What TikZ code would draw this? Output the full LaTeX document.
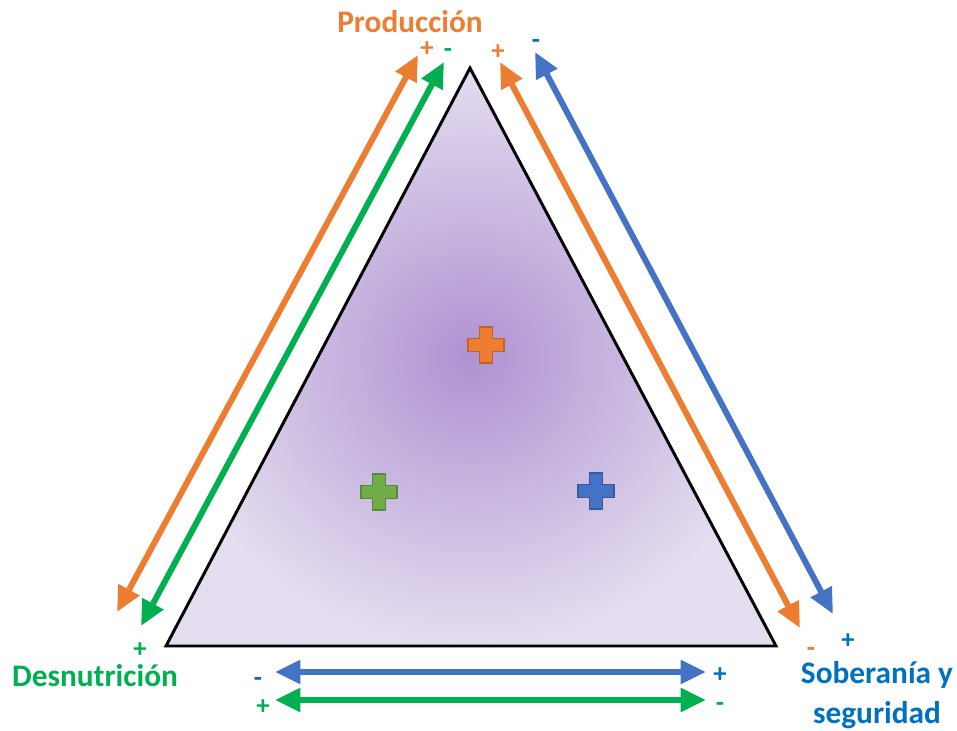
\documentclass[tikz,border=0pt]{standalone}
\usepackage{fontspec}
\setmainfont{Carlito}
\usetikzlibrary{arrows.meta}
\definecolor{prodorange}{HTML}{ED7D31}
\definecolor{desgreen}{HTML}{00B050}
\definecolor{sobblue}{HTML}{4472C4}
\definecolor{textblue}{HTML}{0070C0}
\definecolor{crossgreen}{HTML}{70AD47}
\definecolor{lilacin}{HTML}{AF92D2}
\definecolor{lilacout}{HTML}{E4DDEF}
\tikzstyle{twoway}=[draw,line width=4.5pt,{Triangle[length=19pt,width=17pt]}-{Triangle[length=19pt,width=17pt]}]
\tikzstyle{sign}=[font=\bfseries\fontsize{20}{20}\selectfont,inner sep=0pt]
\tikzstyle{title}=[font=\bfseries\fontsize{23.5}{30}\selectfont,inner sep=0pt,align=center]

\begin{document}
\begin{tikzpicture}[x=0.75pt,y=-0.75pt]
    \useasboundingbox (0,0) rectangle (957,731);

    % the triangle with its shading
    \coordinate (top) at (470,68);
    \coordinate (left) at (166,646);
    \coordinate (right) at (776,646);
    \shade[inner color=lilacin,outer color=lilacout] (top) -- (left) -- (right) -- cycle;
    \draw[line width=2.2pt,line join=miter] (top) -- (left) -- (right) -- cycle;

    % the three crosses
    \foreach \cx/\cy/\col in {486/345/prodorange, 379/492/crossgreen, 596/491/sobblue}
        \draw[fill=\col,draw=\col!80!black,line width=1.2pt]
            (\cx-6.5,\cy-18) -- (\cx+6.5,\cy-18) -- (\cx+6.5,\cy-6.5) -- (\cx+18,\cy-6.5)
            -- (\cx+18,\cy+6.5) -- (\cx+6.5,\cy+6.5) -- (\cx+6.5,\cy+18) -- (\cx-6.5,\cy+18)
            -- (\cx-6.5,\cy+6.5) -- (\cx-18,\cy+6.5) -- (\cx-18,\cy-6.5) -- (\cx-6.5,\cy-6.5) -- cycle;

    % arrow ends
    \foreach \x/\y/\name in {418/55/PL1, 117/612/DL1, 444/62/PL2, 141/626/DL2,
        500/62/PR1, 800/628/SR1, 535/52/PR2, 833/614/SR2,
        275/672/DB1, 706/672/SB1, 275/700/DB2, 706/700/SB2}
        \coordinate (\name) at (\x,\y);

    % two-way arrows
    \foreach \source/ \dest/\col in {PL1/DL1/prodorange, PL2/DL2/desgreen, PR1/SR1/prodorange,
        PR2/SR2/sobblue, DB1/SB1/sobblue, DB2/SB2/desgreen}
        \path[twoway,\col,fill=\col] (\source) -- (\dest);

    % corner labels
    \node[title,prodorange] (prod) at (410,22) {Producción};
    \node[title,desgreen] (desn) at (95,676) {Desnutrición};
    \node[title,textblue] (sobe) at (877,695) {Soberanía y\\seguridad};

    % signs
    \foreach \pos/ \name/\col/\txt in {{(427,49)/s1/prodorange/+},{(448,53)/s2/desgreen/-},
        {(498,52)/s3/prodorange/+},{(536,44)/s4/textblue/-},
        {(140,650)/s5/desgreen/+},{(258,682)/s6/textblue/-},{(263,707)/s7/desgreen/+},
        {(720,675)/s8/textblue/+},{(720,707)/s9/desgreen/-},
        {(811,652)/s10/prodorange/-},{(848,641)/s11/textblue/+}}
        \node[sign,text=\col] (\name) at \pos {\txt};
\end{tikzpicture}
\end{document}
